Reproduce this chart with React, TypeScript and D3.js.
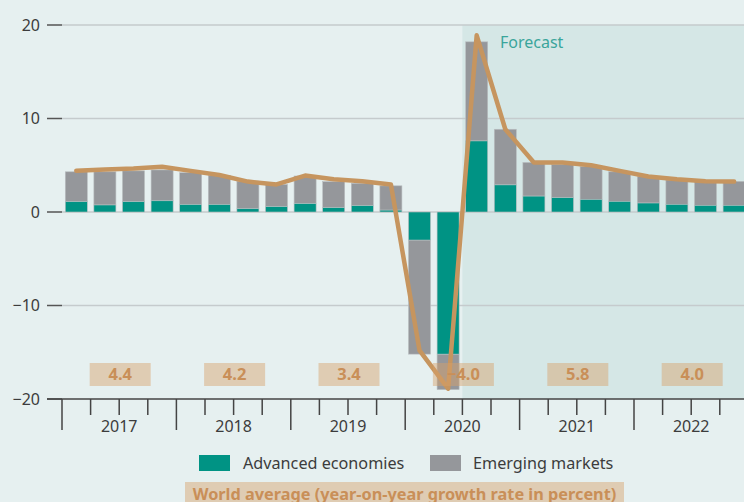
import React from "react";
import * as d3 from "d3";

const quarters = [
  "2017Q1","2017Q2","2017Q3","2017Q4",
  "2018Q1","2018Q2","2018Q3","2018Q4",
  "2019Q1","2019Q2","2019Q3","2019Q4",
  "2020Q1","2020Q2","2020Q3","2020Q4",
  "2021Q1","2021Q2","2021Q3","2021Q4",
  "2022Q1","2022Q2","2022Q3","2022Q4",
];
const advanced = [1.1,0.75,1.1,1.2, 0.8,0.8,0.35,0.57, 0.9,0.46,0.68,0.2, -3.0,-15.2,7.6,2.9, 1.7,1.53,1.35,1.14, 0.96,0.82,0.71,0.71];
const emerging = [3.2,3.55,3.3,3.3, 3.4,3.1,2.95,2.38, 2.95,2.79,2.39,2.6, -12.2,-3.8,10.6,5.95, 3.6,3.57,3.5,3.16, 2.82,2.6,2.54,2.57];
const world = [4.4,4.55,4.65,4.85, 4.4,3.95,3.25,2.95, 3.9,3.5,3.3,2.95, -14.8,-18.9,18.9,8.85, 5.3,5.3,5.0,4.4, 3.8,3.5,3.3,3.25];
const years = ["2017","2018","2019","2020","2021","2022"];
const annual = ["4.4","4.2","3.4","\u22124.0","5.8","4.0"];
const yTicks = [20, 10, 0, -10, -20];
const forecastStart = "2020Q3";

const W = 744, H = 502;
const FONT = "'Noto Sans', 'Open Sans', sans-serif";
const TEAL = "#009384";
const GRAY = "#95979b";
const LINE = "#c6955f";
const BG = "#e6f0f0";
const FC = "#d5e7e6";
const TXT = "#3c3c3c";
const BOXTXT = "#c98f58";

export default function App() {
  const x = d3.scaleBand<string>().domain(quarters).range([62, 62 + 24 * 28.6]).paddingInner(0.23).paddingOuter(0.115);
  const step = x.step();
  const y = d3.scaleLinear().domain([-20, 20]).range([399, 25]);
  const bw = x.bandwidth();
  const cx = (q: string) => (x(q) as number) + bw / 2;
  const boundary = (i: number) => 62 + i * step;
  const line = d3.line<number>().x((_, i) => cx(quarters[i])).y((v) => y(v));
  const fIdx = quarters.indexOf(forecastStart);
  const fx = boundary(fIdx);

  return (
    <svg width={W} height={H} style={{ position: "absolute", left: 0, top: 0, display: "block" }} fontFamily={FONT}>
      <rect x={0} y={0} width={W} height={H} fill={BG} />
      <rect x={fx} y={y(20)} width={W - fx} height={y(-20) - y(20)} fill={FC} />
      {yTicks.map((t) => (
        <g key={t}>
          {t !== -20 && <line x1={62} x2={W} y1={y(t)} y2={y(t)} stroke="#c5cbcd" strokeWidth={1.5} />}
          <line x1={47} x2={62} y1={y(t)} y2={y(t)} stroke="#555" strokeWidth={1.5} />
          <text x={40} y={y(t)} dy="0.35em" textAnchor="end" fontSize={16} fill={TXT}>
            {t < 0 ? "\u2212" + Math.abs(t) : String(t)}
          </text>
        </g>
      ))}
      <text x={500} y={48} fontSize={16} fill="#3aa59b">Forecast</text>
      {quarters.map((q, i) => {
        const a = advanced[i];
        const e = emerging[i];
        const xl = x(q) as number;
        const aTop = a >= 0 ? y(a) : y(0);
        const aH = Math.abs(y(a) - y(0));
        const eStart = a;
        const eEnd = a + e;
        const eTop = Math.min(y(eStart), y(eEnd));
        const eH = Math.abs(y(eEnd) - y(eStart));
        return (
          <g key={q}>
            <rect x={xl} y={eTop} width={bw} height={eH} fill={GRAY} stroke="#b9bec0" strokeWidth={0.6} />
            <rect x={xl} y={aTop} width={bw} height={aH} fill={TEAL} stroke="#b9bec0" strokeWidth={0.6} />
          </g>
        );
      })}
      <path d={line(world) || ""} fill="none" stroke={LINE} strokeWidth={4.5} strokeLinejoin="round" strokeLinecap="round" />
      {years.map((yr, k) => {
        const c = (boundary(k * 4) + boundary(k * 4 + 4)) / 2 + 1;
        return (
          <g key={yr}>
            <rect x={c - 30.5} y={363} width={61} height={23} fill="rgb(215,160,105)" fillOpacity={0.45} />
            <text x={c} y={374.5} dy="0.36em" textAnchor="middle" fontSize={16.5} fontWeight={700} fill={BOXTXT}>{annual[k]}</text>
            <text x={c - 1} y={432} textAnchor="middle" fontSize={16} fill={TXT}>{yr}</text>
          </g>
        );
      })}
      <line x1={47} x2={W} y1={399} y2={399} stroke="#444" strokeWidth={1.5} />
      {d3.range(0, 25).map((i) => (
        <line key={i} x1={boundary(i)} x2={boundary(i)} y1={399} y2={i % 4 === 0 ? 430 : 415} stroke="#444" strokeWidth={1.5} />
      ))}
      <rect x={199} y={455} width={31} height={16} fill={TEAL} />
      <text x={243} y={463} dy="0.35em" fontSize={16.2} fill={TXT}>Advanced economies</text>
      <rect x={430} y={455} width={31} height={16} fill={GRAY} />
      <text x={473} y={463} dy="0.35em" fontSize={16.2} fill={TXT}>Emerging markets</text>
      <rect x={185} y={482} width={439} height={22} fill="rgb(215,160,105)" fillOpacity={0.45} />
      <text x={404.5} y={494} dy="0.35em" textAnchor="middle" fontSize={16.3} fontWeight={700} fill={BOXTXT}>
        World average (year-on-year growth rate in percent)
      </text>
    </svg>
  );
}
